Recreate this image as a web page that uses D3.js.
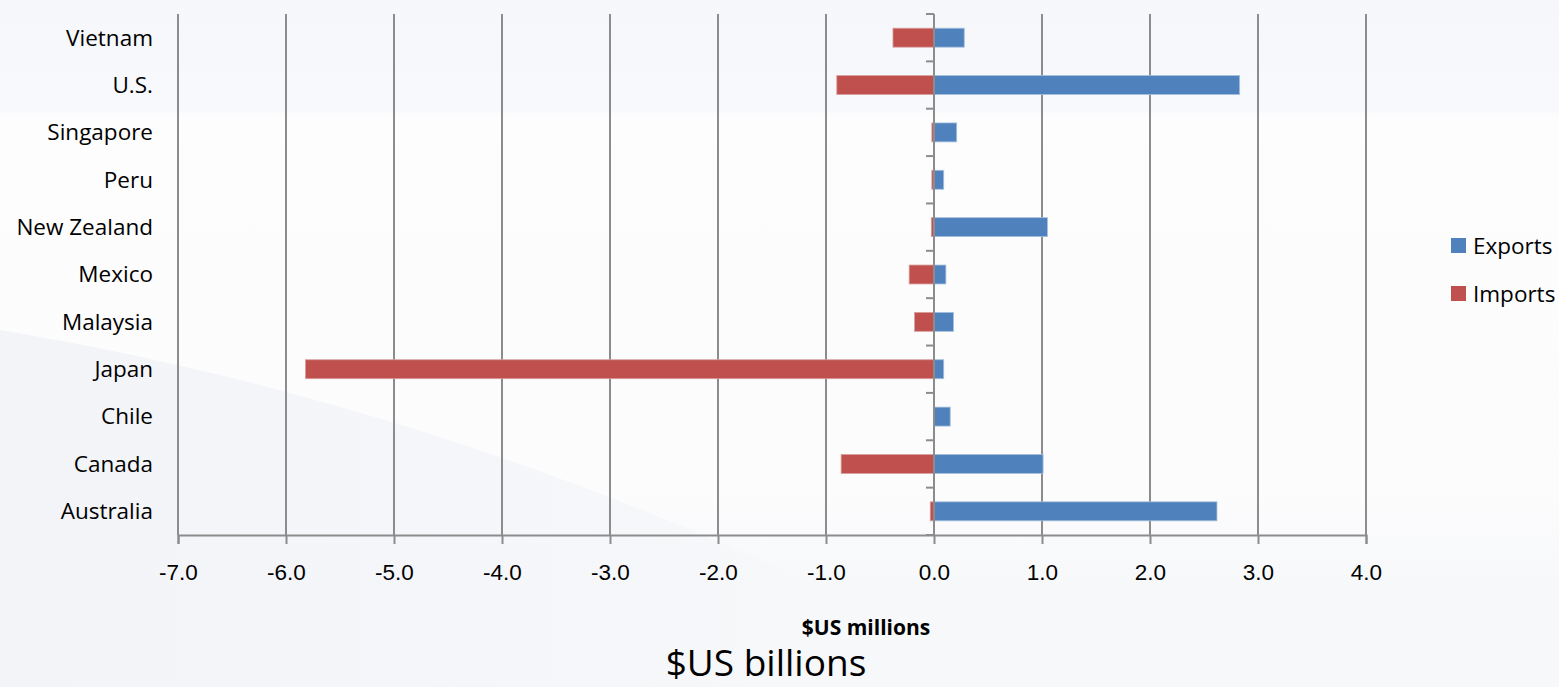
<!DOCTYPE html>
<html>
<head>
<meta charset="utf-8">
<script src="https://cdn.jsdelivr.net/npm/d3@7"></script>
<style>
  body { margin: 0; background: #f8f9fb; }
  svg { display: block; font-family: "Open Sans", Lato, sans-serif; }
</style>
</head>
<body>
<div id="chart"></div>
<script>
// categories bottom -> top as in the picture
const countries = ["Australia", "Canada", "Chile", "Japan", "Malaysia", "Mexico",
                   "New Zealand", "Peru", "Singapore", "U.S.", "Vietnam"];
const exportsVals = [2.62, 1.01, 0.15, 0.09, 0.18, 0.11, 1.05, 0.09, 0.21, 2.83, 0.28];
const importsVals = [-0.035, -0.86, 0, -5.82, -0.18, -0.23, -0.025, -0.02, -0.02, -0.90, -0.38];
const xTicks = [-7, -6, -5, -4, -3, -2, -1, 0, 1, 2, 3, 4];
const seriesNames = ["Exports", "Imports"];
const seriesColors = ["#4f81bd", "#c0504d"];

const W = 1559, H = 687;
const margin = {top: 14, right: 193, bottom: 152, left: 178};
const width = W - margin.left - margin.right,
      height = H - margin.top - margin.bottom;
const fontSize = 22.5;

const root = d3.select("#chart").append("svg")
  .attr("width", W)
  .attr("height", H);

// soft background like the slide
const defs = root.append("defs");
const grad = defs.append("linearGradient").attr("id", "bg").attr("x1", 0).attr("y1", 0).attr("x2", 0).attr("y2", 1);
grad.append("stop").attr("offset", "0%").attr("stop-color", "#f5f7fb");
grad.append("stop").attr("offset", "16%").attr("stop-color", "#f8f9fc");
grad.append("stop").attr("offset", "17%").attr("stop-color", "#fdfdfe");
grad.append("stop").attr("offset", "72%").attr("stop-color", "#fcfcfd");
grad.append("stop").attr("offset", "85%").attr("stop-color", "#f7f8fa");
grad.append("stop").attr("offset", "100%").attr("stop-color", "#f7f8fa");
root.append("rect").attr("width", W).attr("height", H).attr("fill", "url(#bg)");

const swoosh = defs.append("linearGradient").attr("id", "sw").attr("x1", 0).attr("y1", 0).attr("x2", 1).attr("y2", 0);
swoosh.append("stop").attr("offset", "0%").attr("stop-color", "#f3f4f8");
swoosh.append("stop").attr("offset", "100%").attr("stop-color", "#f7f8fa");
root.append("path")
  .attr("d", "M0,330 C300,380 560,470 760,560 C800,580 830,600 850,620 L850,687 L0,687 Z")
  .attr("fill", "url(#sw)");

const svg = root.append("g")
  .attr("transform", `translate(${margin.left},${margin.top})`);

const x = d3.scaleLinear().domain([-7, 4]).range([0, width]);
const y = d3.scaleBand().domain(countries).range([height, 0]).paddingInner(0.6).paddingOuter(0.3);
const yEdge = d3.scaleLinear().domain([0, countries.length]).range([height, 0]);

// vertical gridlines
svg.append("g")
  .selectAll("line")
  .data(xTicks)
  .join("line")
  .attr("x1", d => x(d)).attr("x2", d => x(d))
  .attr("y1", 0).attr("y2", height)
  .attr("stroke", "#8c8c8c")
  .attr("stroke-width", 2);

// bottom axis
const xAxis = svg.append("g")
  .attr("transform", `translate(0,${height})`)
  .call(d3.axisBottom(x).tickValues(xTicks).tickFormat(d3.format(".1f")).tickSize(9).tickPadding(20));
xAxis.select(".domain").attr("stroke", "#8c8c8c").attr("stroke-width", 2);
xAxis.selectAll(".tick line").attr("stroke", "#8c8c8c").attr("stroke-width", 2);
xAxis.selectAll(".tick text")
  .attr("font-size", fontSize)
  .attr("fill", "#000")
  .text(d => d3.format(".1f")(d).replace("−", "-"));

// bars
const rows = countries.map((c, i) => ({c, exp: exportsVals[i], imp: importsVals[i]}));

svg.append("g")
  .selectAll("rect")
  .data(rows)
  .join("rect")
  .attr("x", d => x(d.imp))
  .attr("y", d => y(d.c))
  .attr("width", d => x(0) - x(d.imp))
  .attr("height", y.bandwidth())
  .attr("fill", seriesColors[1])
  .attr("stroke", "#d8a09e")
  .attr("stroke-width", d => d.imp === 0 ? 0 : 0.8);

svg.append("g")
  .selectAll("rect")
  .data(rows)
  .join("rect")
  .attr("x", x(0))
  .attr("y", d => y(d.c))
  .attr("width", d => x(d.exp) - x(0))
  .attr("height", y.bandwidth())
  .attr("fill", seriesColors[0])
  .attr("stroke", "#a6bfdc")
  .attr("stroke-width", 0.8);

// category axis on zero line
svg.append("line")
  .attr("x1", x(0)).attr("x2", x(0))
  .attr("y1", 0).attr("y2", height)
  .attr("stroke", "#8c8c8c").attr("stroke-width", 2);
svg.append("g")
  .selectAll("line")
  .data(d3.range(countries.length + 1))
  .join("line")
  .attr("x1", x(0) - 8).attr("x2", x(0))
  .attr("y1", d => yEdge(d)).attr("y2", d => yEdge(d))
  .attr("stroke", "#8c8c8c").attr("stroke-width", 2);

// category labels on the left
svg.append("g")
  .selectAll("text")
  .data(countries)
  .join("text")
  .attr("x", -25)
  .attr("y", d => y(d) + y.bandwidth() / 2)
  .attr("dy", "0.35em")
  .attr("text-anchor", "end")
  .attr("font-size", fontSize)
  .attr("fill", "#000")
  .text(d => d);

// legend
const legend = root.append("g").attr("transform", "translate(1451,238)");
seriesNames.forEach((name, i) => {
  const g = legend.append("g").attr("transform", `translate(0,${i * 48})`);
  g.append("rect").attr("width", 15).attr("height", 15).attr("fill", seriesColors[i]);
  g.append("text")
    .attr("x", 22).attr("y", 8).attr("dy", "0.35em")
    .attr("font-size", fontSize).attr("fill", "#000")
    .text(name);
});

// axis titles
root.append("text")
  .attr("x", 866).attr("y", 635)
  .attr("text-anchor", "middle")
  .attr("font-size", 21).attr("font-weight", "bold").attr("fill", "#000")
  .text("$US millions");
root.append("text")
  .attr("x", 766).attr("y", 676)
  .attr("text-anchor", "middle")
  .attr("font-size", 37).attr("fill", "#000")
  .text("$US billions");
</script>
</body>
</html>
